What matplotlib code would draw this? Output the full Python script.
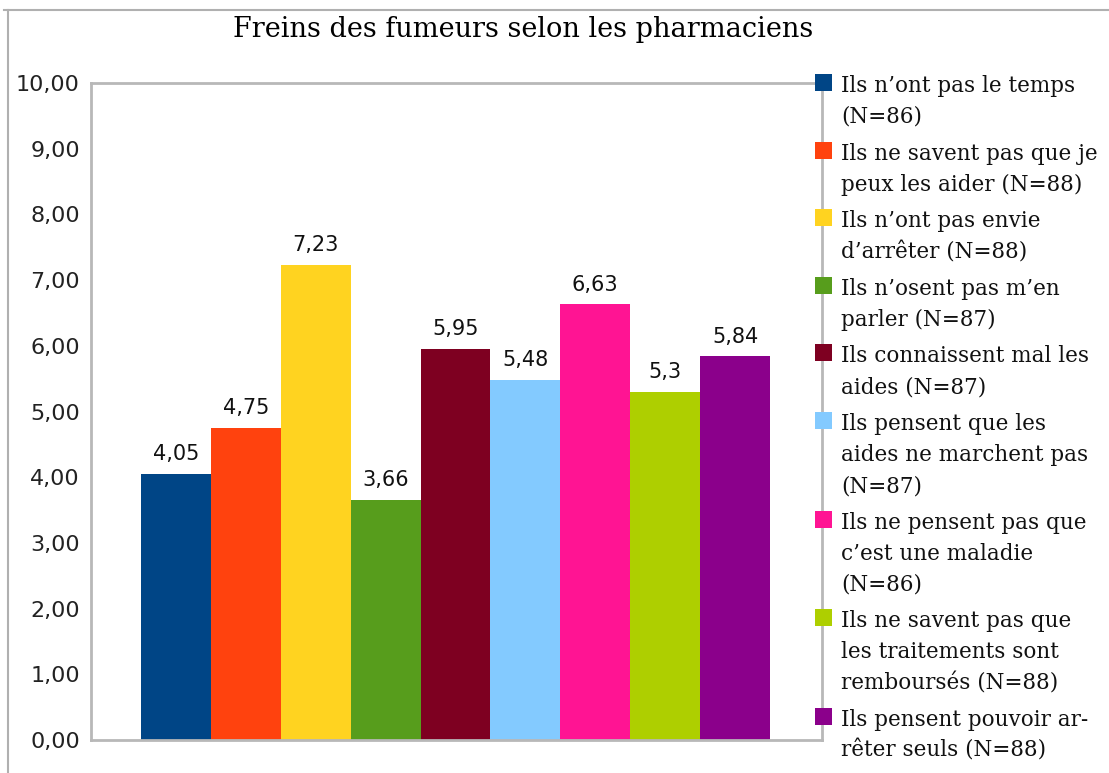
import matplotlib.pyplot as plt
from matplotlib.lines import Line2D
from matplotlib.patches import Rectangle

# data
labels = [
    "Ils n’ont pas le temps\n(N=86)",
    "Ils ne savent pas que je\npeux les aider (N=88)",
    "Ils n’ont pas envie\nd’arrêter (N=88)",
    "Ils n’osent pas m’en\nparler (N=87)",
    "Ils connaissent mal les\naides (N=87)",
    "Ils pensent que les\naides ne marchent pas\n(N=87)",
    "Ils ne pensent pas que\nc’est une maladie\n(N=86)",
    "Ils ne savent pas que\nles traitements sont\nremboursés (N=88)",
    "Ils pensent pouvoir ar-\nrêter seuls (N=88)",
]
values = [4.05, 4.75, 7.23, 3.66, 5.95, 5.48, 6.63, 5.3, 5.84]
value_labels = ["4,05", "4,75", "7,23", "3,66", "5,95", "5,48", "6,63", "5,3", "5,84"]
colors = ["#004586", "#ff420e", "#ffd320", "#579d1c", "#7e0021",
          "#83caff", "#ff1493", "#aecf00", "#8b008b"]
yticks = [0, 1, 2, 3, 4, 5, 6, 7, 8, 9, 10]

W, H = 1109, 773
fig = plt.figure(figsize=(W / 100, H / 100), dpi=100)
ax = fig.add_axes([91 / W, 1 - 740 / H, (822 - 91) / W, (740 - 83) / H])

x = list(range(len(values)))
ax.bar(x, values, width=1.0, color=colors, linewidth=0)

for xi, v, t in zip(x, values, value_labels):
    ax.annotate(t, (xi, v), xytext=(0, 7), textcoords="offset points",
                ha="center", va="bottom", fontsize=15, color="#111111")

ax.set_ylim(0, 10)
ax.set_xlim(-0.5 - 50 / 69.9, len(values) - 0.5 + 52 / 69.9)
ax.set_yticks(yticks)
ax.set_yticklabels([f"{t:.2f}".replace(".", ",") for t in yticks], fontsize=16, color="#222222")
ax.tick_params(axis="y", length=0, pad=8)
ax.set_xticks([])
for s in ax.spines.values():
    s.set_color("#b8b8b8")
    s.set_linewidth(2)

# legend, drawn by hand so the squares sit on the first line of each entry
line_h = 31
entry_gap = 36.6
y = 92  # baseline of first line, in pixels from top
for lab, c in zip(labels, colors):
    fig.add_artist(Rectangle((815 / W, 1 - (y - 1) / H), 17 / W, 17 / H,
                             transform=fig.transFigure, facecolor=c, edgecolor="none"))
    lines = lab.split("\n")
    for i, ln in enumerate(lines):
        fig.text(841 / W, 1 - y / H, ln, ha="left", va="baseline",
                 fontsize=15.5, family="DejaVu Serif", color="#111111")
        if i < len(lines) - 1:
            y += line_h
    y += entry_gap

fig.text(523 / W, 1 - 37 / H, "Freins des fumeurs selon les pharmaciens",
         ha="center", va="baseline", fontsize=19.5, family="DejaVu Serif")

# outer frame
fig.add_artist(Line2D([8 / W, 8 / W], [0, 1 - 10 / H], transform=fig.transFigure,
                      color="#b0b0b0", linewidth=1.5))
fig.add_artist(Line2D([4 / W, 1], [1 - 10 / H, 1 - 10 / H], transform=fig.transFigure,
                      color="#b0b0b0", linewidth=1.5))

fig.savefig("out.png", dpi=100)
